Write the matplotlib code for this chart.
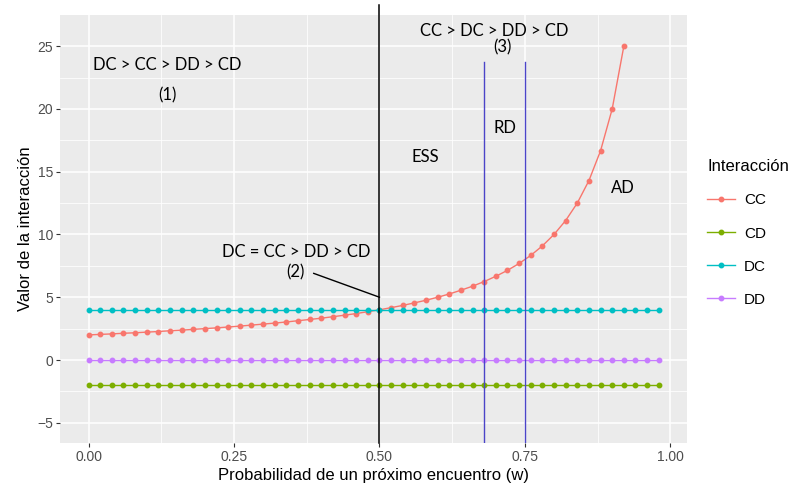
import matplotlib
matplotlib.use('Agg')
from matplotlib import pyplot as plt
from matplotlib.lines import Line2D

# probabilidad w de un próximo encuentro
w = [0.00, 0.02, 0.04, 0.06, 0.08, 0.10, 0.12, 0.14, 0.16, 0.18,
     0.20, 0.22, 0.24, 0.26, 0.28, 0.30, 0.32, 0.34, 0.36, 0.38,
     0.40, 0.42, 0.44, 0.46, 0.48, 0.50, 0.52, 0.54, 0.56, 0.58,
     0.60, 0.62, 0.64, 0.66, 0.68, 0.70, 0.72, 0.74, 0.76, 0.78,
     0.80, 0.82, 0.84, 0.86, 0.88, 0.90, 0.92, 0.94, 0.96, 0.98]

# valor de cada interacción
cc = [2.00, 2.04, 2.08, 2.13, 2.17, 2.22, 2.27, 2.33, 2.38, 2.44,
      2.50, 2.56, 2.63, 2.70, 2.78, 2.86, 2.94, 3.03, 3.13, 3.23,
      3.33, 3.45, 3.57, 3.70, 3.85, 4.00, 4.17, 4.35, 4.55, 4.76,
      5.00, 5.26, 5.56, 5.88, 6.25, 6.67, 7.14, 7.69, 8.33, 9.09,
      10.00, 11.11, 12.50, 14.29, 16.67, 20.00, 25.00]
cd = [-2] * len(w)
dc = [4] * len(w)
dd = [0] * len(w)

series = {'CC': cc, 'CD': cd, 'DC': dc, 'DD': dd}
colores = {'CC': '#F8766D', 'CD': '#7CAE00', 'DC': '#00BFC4', 'DD': '#C77CFF'}

w_umbral = 0.5
w_rd = [0.68, 0.75]

fig = plt.figure(figsize=(8.01, 4.91), dpi=100)
ax = fig.add_axes([0.075, 0.098, 0.783, 0.872])
ax.set_facecolor('#EBEBEB')
for s in ax.spines.values():
    s.set_visible(False)

ax.set_xlim(-0.049, 1.029)
ax.set_ylim(-6.6, 27.5)
ax.set_xticks([0, 0.25, 0.5, 0.75, 1.0])
ax.set_xticklabels(['0.00', '0.25', '0.50', '0.75', '1.00'])
ax.set_yticks([-5, 0, 5, 10, 15, 20, 25])
ax.set_xticks([0.125, 0.375, 0.625, 0.875], minor=True)
ax.set_yticks([-2.5, 2.5, 7.5, 12.5, 17.5, 22.5], minor=True)
ax.grid(True, which='major', color='white', linewidth=1.1)
ax.grid(True, which='minor', color='white', linewidth=0.55)
ax.set_axisbelow(True)
ax.tick_params(which='major', length=3, width=0.8, color='#333333',
               labelcolor='#4D4D4D', labelsize=10, pad=2)
ax.tick_params(which='minor', length=0)
for lbl in ax.get_xticklabels() + ax.get_yticklabels():
    lbl.set_family('Liberation Sans')

for nombre, y in series.items():
    ax.plot(w[:len(y)], y, color=colores[nombre], linewidth=1,
            marker='o', markersize=3.2, label=nombre)

ax.set_xlabel('Probabilidad de un próximo encuentro (w)', family='Liberation Sans',
              fontsize=12, color='black', labelpad=3)
ax.set_ylabel('Valor de la interacción', family='Liberation Sans',
              fontsize=12, color='black', labelpad=3)

# umbral w = 0.5 y zona RD
ax.plot([w_umbral, w_umbral], [-6.6, 28.3], color='black', linewidth=1.1, clip_on=False)
for x in w_rd:
    ax.plot([x, x], [-6.6, 23.7], color='#4B44C8', linewidth=1.0)

# anotaciones de los órdenes de preferencia
f = dict(family='Lato', fontsize=12, color='black', ha='center', va='center')
ax.text(0.135, 23.5, 'DC > CC > DD > CD', **f)
ax.text(0.135, 21.1, '(1)', **f)
ax.text(0.356, 8.6, 'DC = CC > DD > CD', **f)
ax.text(0.356, 7.0, '(2)', **f)
ax.plot([0.387, w_umbral], [6.9, 5.0], color='black', linewidth=1.0)
ax.text(0.697, 26.2, 'CC > DC > DD > CD', **f)
ax.text(0.712, 24.9, '(3)', **f)
ax.text(0.579, 16.2, 'ESS', **f)
ax.text(0.716, 18.5, 'RD', **f)
ax.text(0.918, 13.7, 'AD', **f)

# leyenda
handles = [Line2D([], [], color=colores[n], linewidth=1, marker='o', markersize=3.2)
           for n in series]
leg = ax.legend(handles, list(series), title='Interacción', loc='center left',
                bbox_to_anchor=(1.01, 0.49), frameon=False, handlelength=1.8,
                handletextpad=0.6, labelspacing=1.25,
                prop={'family': 'Liberation Sans', 'size': 11},
                title_fontproperties={'family': 'Liberation Sans', 'size': 12})
leg._legend_box.align = 'left'

fig.savefig('out.png', dpi=100)
